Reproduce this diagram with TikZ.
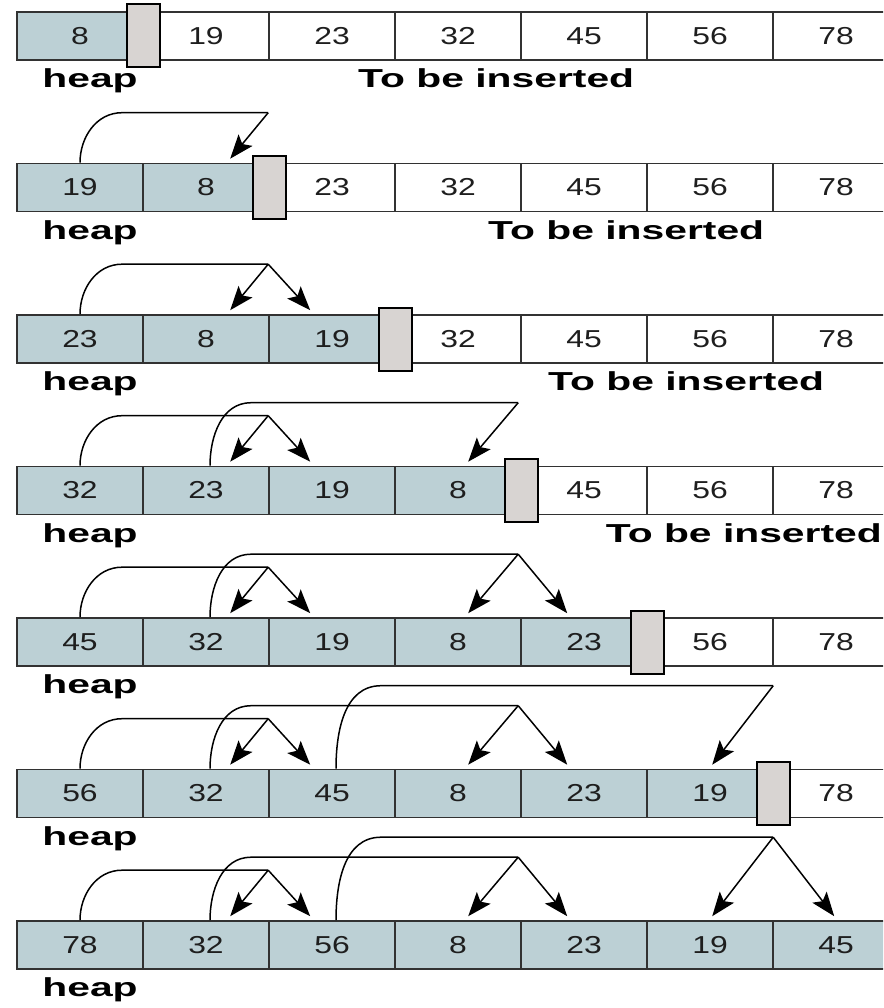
\documentclass[tikz,border=0pt]{standalone}
\usepackage{graphicx}
\usepackage{fontspec}
\setmainfont{Liberation Sans}
\usetikzlibrary{arrows.meta,calc}
\definecolor{heapfill}{RGB}{188,208,213}
\definecolor{divfill}{RGB}{216,212,210}
\definecolor{cellline}{RGB}{50,50,50}
\definecolor{digit}{RGB}{30,30,30}
\newcommand\cellnum[1]{\scalebox{1.3}[1]{#1}}
\newcommand\lbltext[1]{\scalebox{1.57}[1]{#1}}
\tikzset{
  cell/.style={draw=cellline, line width=1.6pt, minimum width=126pt, minimum height=48pt,
    inner sep=0pt, font=\fontsize{24.5}{28}\selectfont, text=digit},
  heapcell/.style={cell, fill=heapfill},
  freecell/.style={cell, fill=white},
  divider/.style={draw=black, line width=2pt, fill=divfill, minimum width=33pt,
    minimum height=63pt, inner sep=0pt},
  lbl/.style={font=\fontsize{26}{30}\selectfont\bfseries, inner sep=0pt},
  conn/.style={line width=1.5pt, black},
  arr/.style={conn, -{Stealth[length=24pt,width=18pt,inset=5pt]}},
}
\begin{document}
\begin{tikzpicture}[x=1pt,y=1pt]
\useasboundingbox (0,0) rectangle (883,-1008);
\clip (0,0) rectangle (883,-1008);
% cells
\foreach \r/\vals/\nh in {0/{8,19,23,32,45,56,78}/1,
                          1/{19,8,23,32,45,56,78}/2,
                          2/{23,8,19,32,45,56,78}/3,
                          3/{32,23,19,8,45,56,78}/4,
                          4/{45,32,19,8,23,56,78}/5,
                          5/{56,32,45,8,23,19,78}/6,
                          6/{78,32,56,8,23,19,45}/7} {
  \foreach \v [count=\c from 0] in \vals {
    \ifnum\c<\nh \def\st{heapcell}\else\def\st{freecell}\fi
    \node[\st] (r\r-\c) at ({80+126*\c}, {-(36+151.5*\r)}) {\cellnum{\v}};
  }
  \ifnum\nh<7
    \node[divider] (d\r) at ({17+126*\nh}, {-(36+151.5*\r)}) {};
  \fi
  \node[lbl, anchor=base] (h\r) at ($(r\r-0.south)+(10,-27)$) {\lbltext{heap}};
}
% "To be inserted" labels
\node[lbl, anchor=base west] (tbi0) at ($(r0-0.south)+(-80,-27)+(358,0)$) {\lbltext{To be inserted}};
\node[lbl, anchor=base west] (tbi1) at ($(r1-0.south)+(-80,-27)+(488,0)$) {\lbltext{To be inserted}};
\node[lbl, anchor=base west] (tbi2) at ($(r2-0.south)+(-80,-27)+(548,0)$) {\lbltext{To be inserted}};
\node[lbl, anchor=base east] (tbi3) at ($(r3-0.south)+(-80,-27)+(882,0)$) {\lbltext{To be inserted}};
% level 1 connectors
\foreach \r in {1,...,6} {
  \coordinate (a1-\r) at ($(r\r-2.north west)+(0,50)$);
  \coordinate (t1l-\r) at ($(r\r-2.north west)+(-38,4)$);
  \coordinate (t1r-\r) at ($(r\r-2.north west)+(42,4)$);
  \draw[conn] (r\r-0.north) to[out=90,in=180] ++(42,50) -- (a1-\r);
  \draw[arr] (a1-\r) -- (t1l-\r);
  \ifnum\r>1 \draw[arr] (a1-\r) -- (t1r-\r); \fi
}
% level 2 connectors
\foreach \r in {3,...,6} {
  \coordinate (a2-\r) at ($(r\r-4.north west)+(-2,63)$);
  \coordinate (t2l-\r) at ($(r\r-4.north west)+(-52,4)$);
  \coordinate (t2r-\r) at ($(r\r-4.north west)+(47,4)$);
  \draw[conn] ($(r\r-1.north)+(4,0)$) to[out=90,in=180] ++(41,63) -- (a2-\r);
  \draw[arr] (a2-\r) -- (t2l-\r);
  \ifnum\r>3 \draw[arr] (a2-\r) -- (t2r-\r); \fi
}
% level 3 connectors
\foreach \r in {5,6} {
  \coordinate (a3-\r) at ($(r\r-6.north west)+(1,83)$);
  \coordinate (t3l-\r) at ($(r\r-6.north west)+(-60,4)$);
  \coordinate (t3r-\r) at ($(r\r-6.north west)+(62,4)$);
  \draw[conn] ($(r\r-2.north)+(4,0)$) to[out=90,in=180] ++(45,83) -- (a3-\r);
  \draw[arr] (a3-\r) -- (t3l-\r);
  \ifnum\r>5 \draw[arr] (a3-\r) -- (t3r-\r); \fi
}
\end{tikzpicture}
\end{document}
